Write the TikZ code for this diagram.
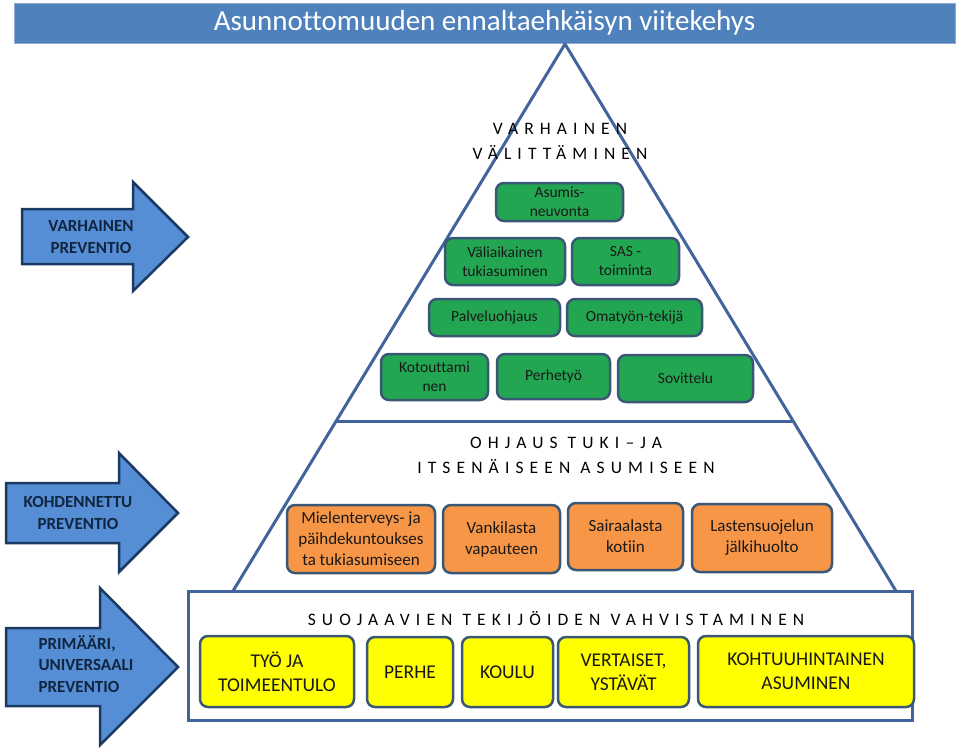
\documentclass[tikz,border=0pt]{standalone}
\usepackage{fontspec}
\setmainfont{Carlito}[Ligatures=NoCommon]
\newfontfamily\spacedfont[LetterSpace=35,Ligatures=NoCommon]{Carlito}
\usetikzlibrary{calc}
\definecolor{barblue}{HTML}{4F81BD}
\definecolor{barline}{HTML}{8DA9D4}
\definecolor{arrowfill}{HTML}{568ED5}
\definecolor{arrowline}{HTML}{1B3A63}
\definecolor{arrowtext}{HTML}{10253F}
\definecolor{pyrline}{HTML}{41659A}
\definecolor{boxline}{HTML}{3A5876}
\definecolor{boxgreen}{HTML}{22A652}
\definecolor{boxorange}{HTML}{F79646}
\definecolor{boxyellow}{HTML}{FFFF00}
\begin{document}
\begin{tikzpicture}[x=1pt,y=-1pt,
    sz/.style 2 args={minimum width=#1,minimum height=#2},
    box/.style={draw=boxline,line width=2.5pt,rounded corners=8pt,align=center,inner sep=1pt,text=black!90},
    gbox/.style={box,fill=boxgreen,font=\fontsize{15.5}{19}\selectfont},
    obox/.style={box,fill=boxorange,font=\fontsize{17}{21}\selectfont},
    ybox/.style={box,fill=boxyellow,font=\fontsize{19.5}{24}\selectfont},
    head/.style={align=center,font=\spacedfont\fontsize{17.5}{25}\selectfont},
    pyr/.style={draw=pyrline,line width=3pt},
    bigarrow/.style={draw=arrowline,fill=arrowfill,line width=2.5pt,line join=miter},
    arrowlabel/.style={align=center,text=arrowtext,font=\bfseries\fontsize{17}{21.5}\selectfont}]
  \useasboundingbox (0,0) rectangle (960,748);
  \node[draw=barline,fill=barblue,line width=1pt,sz={941}{40},text=white,
    font=\fontsize{29}{34}\selectfont] (title) at (484.5,23) {Asunnottomuuden ennaltaehkäisyn viitekehys};
  \coordinate (apex) at (565,44);
  \coordinate (bl) at (233,591);
  \coordinate (br) at (896,591);
  \coordinate (ml) at ($(apex)!0.691!(bl)$);
  \coordinate (mr) at ($(apex)!0.691!(br)$);
  \draw[pyr,line join=round] (bl) -- (apex) -- (br);
  \draw[pyr] (ml) -- (mr);
  \draw[pyr,fill=white] (188,591) rectangle (912,720);
  \node[head] (varh) at (560,141) {VARHAINEN\\VÄLITTÄMINEN};
  \node[gbox,sz={127}{38}] (asum) at (559.5,202) {Asumis-\\neuvonta};
  \node[gbox,sz={120}{47}] (vali) at (505,261.5) {Väliaikainen\\tukiasuminen};
  \node[gbox,sz={107}{47}] (sas) at (625.5,261.5) {SAS -\\toiminta};
  \node[gbox,sz={131}{37}] (palv) at (494.5,317.5) {Palveluohjaus};
  \node[gbox,sz={135}{37}] (oma) at (634.5,317.5) {Omatyön-tekijä};
  \node[gbox,sz={107}{46}] (koto) at (434.5,377) {Kotouttami\\nen};
  \node[gbox,sz={113}{45}] (perh) at (553.5,376.5) {Perhetyö};
  \node[gbox,sz={135}{47}] (sovi) at (685.5,378.5) {Sovittelu};
  \node[head] (ohja) at (566,455) {OHJAUS TUKI–JA\\ITSENÄISEEN ASUMISEEN};
  \node[obox,sz={148}{68}] (miel) at (361,539) {Mielenterveys- ja\\päihdekuntoukses\\ta tukiasumiseen};
  \node[obox,sz={117}{68}] (vank) at (501.5,539) {Vankilasta\\vapauteen};
  \node[obox,sz={115}{67}] (sair) at (625.5,536.5) {Sairaalasta\\kotiin};
  \node[obox,sz={140}{68}] (last) at (762,538) {Lastensuojelun\\jälkihuolto};
  \node[head] (suoj) at (556,619) {SUOJAAVIEN TEKIJÖIDEN VAHVISTAMINEN};
  \node[ybox,sz={154}{71}] (tyo) at (277,671.5) {TYÖ JA\\TOIMEENTULO};
  \node[ybox,sz={86}{70}] (perhe) at (410,672) {PERHE};
  \node[ybox,sz={91}{70}] (koulu) at (507.5,672) {KOULU};
  \node[ybox,sz={131}{70}] (vert) at (623.5,672) {VERTAISET,\\YSTÄVÄT};
  \node[ybox,sz={216}{71}] (kohtu) at (806,671.5) {KOHTUUHINTAINEN\\ASUMINEN};
  \draw[bigarrow] (22,209) -- (133,209) -- (133,182) -- (188,237) -- (133,291) -- (133,264) -- (22,264) -- cycle;
  \node[arrowlabel] (varprev) at (91,237) {VARHAINEN\\PREVENTIO};
  \draw[bigarrow] (6,483) -- (119,483) -- (119,453) -- (178,513) -- (119,572) -- (119,543) -- (6,543) -- cycle;
  \node[arrowlabel] (kohprev) at (78,513) {KOHDENNETTU\\PREVENTIO};
  \draw[bigarrow] (6,628) -- (100,628) -- (100,588) -- (178,667) -- (100,745) -- (100,706) -- (6,706) -- cycle;
  \node[arrowlabel,align=left,anchor=west] (priprev) at (35,664) {PRIMÄÄRI,\\UNIVERSAALI\\PREVENTIO};
\end{tikzpicture}
\end{document}
